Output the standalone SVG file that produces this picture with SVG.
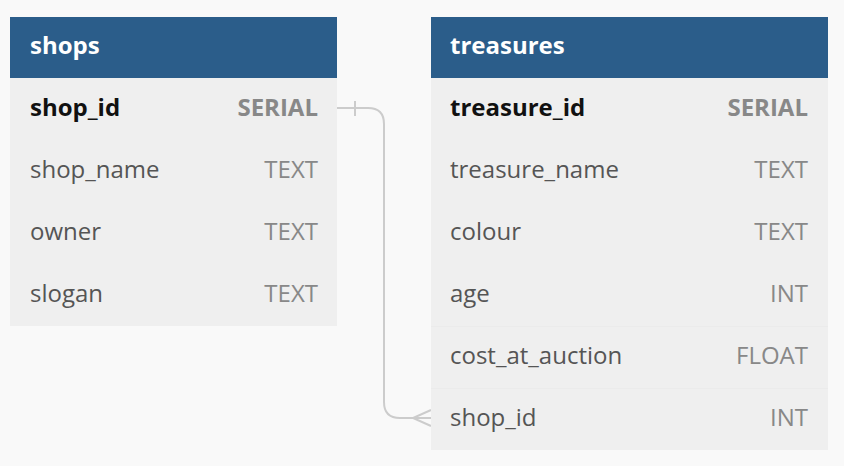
<svg xmlns="http://www.w3.org/2000/svg" width="844" height="466" viewBox="0 0 844 466">
<style>
.bg{fill:#f9f9f9}
.body{fill:#efefef}
.hdr{fill:#2b5d8a}
.sep{stroke:#ebebeb;stroke-width:1}
.title{font-family:"Open Sans",sans-serif;font-size:24px;font-weight:bold;fill:#ffffff}
.name{font-family:"Open Sans",sans-serif;font-size:24px;fill:#555555}
.type{font-family:"Open Sans",sans-serif;font-size:24px;fill:#888888;text-anchor:end}
.key{font-weight:bold;fill:#111111}
.keyt{font-weight:bold;fill:#888888}
.conn{fill:none;stroke:#cccccc;stroke-width:2}
</style>
<rect class="bg" x="0" y="0" width="844" height="466"/>
<g id="connectors">
<path class="conn" d="M337,108 H368 Q384,108 384,124 V402 Q384,418 400,418 H431"/>
<path class="conn" d="M355,101 V116"/>
<path class="conn" d="M431,410 L413,418 L431,426"/>
</g>
<g id="shops">
<rect class="body" x="10" y="17" width="327" height="309"/>
<rect class="hdr" x="10" y="17" width="327" height="61"/>
<text class="title" x="30" y="54">shops</text>
<text class="name key" x="30" y="116">shop_id</text>
<text class="type keyt" x="318" y="116">SERIAL</text>
<text class="name" x="30" y="178">shop_name</text>
<text class="type" x="318" y="178">TEXT</text>
<text class="name" x="30" y="240">owner</text>
<text class="type" x="318" y="240">TEXT</text>
<text class="name" x="30" y="302">slogan</text>
<text class="type" x="318" y="302">TEXT</text>
</g>
<g id="treasures">
<rect class="body" x="431" y="17" width="397" height="433"/>
<rect class="hdr" x="431" y="17" width="397" height="61"/>
<line class="sep" x1="431" y1="326.5" x2="828" y2="326.5"/>
<line class="sep" x1="431" y1="388.5" x2="828" y2="388.5"/>
<text class="title" x="450" y="54">treasures</text>
<text class="name key" x="450" y="116">treasure_id</text>
<text class="type keyt" x="808" y="116">SERIAL</text>
<text class="name" x="450" y="178">treasure_name</text>
<text class="type" x="808" y="178">TEXT</text>
<text class="name" x="450" y="240">colour</text>
<text class="type" x="808" y="240">TEXT</text>
<text class="name" x="450" y="302">age</text>
<text class="type" x="808" y="302">INT</text>
<text class="name" x="450" y="364">cost_at_auction</text>
<text class="type" x="808" y="364">FLOAT</text>
<text class="name" x="450" y="426">shop_id</text>
<text class="type" x="808" y="426">INT</text>
</g>
</svg>
